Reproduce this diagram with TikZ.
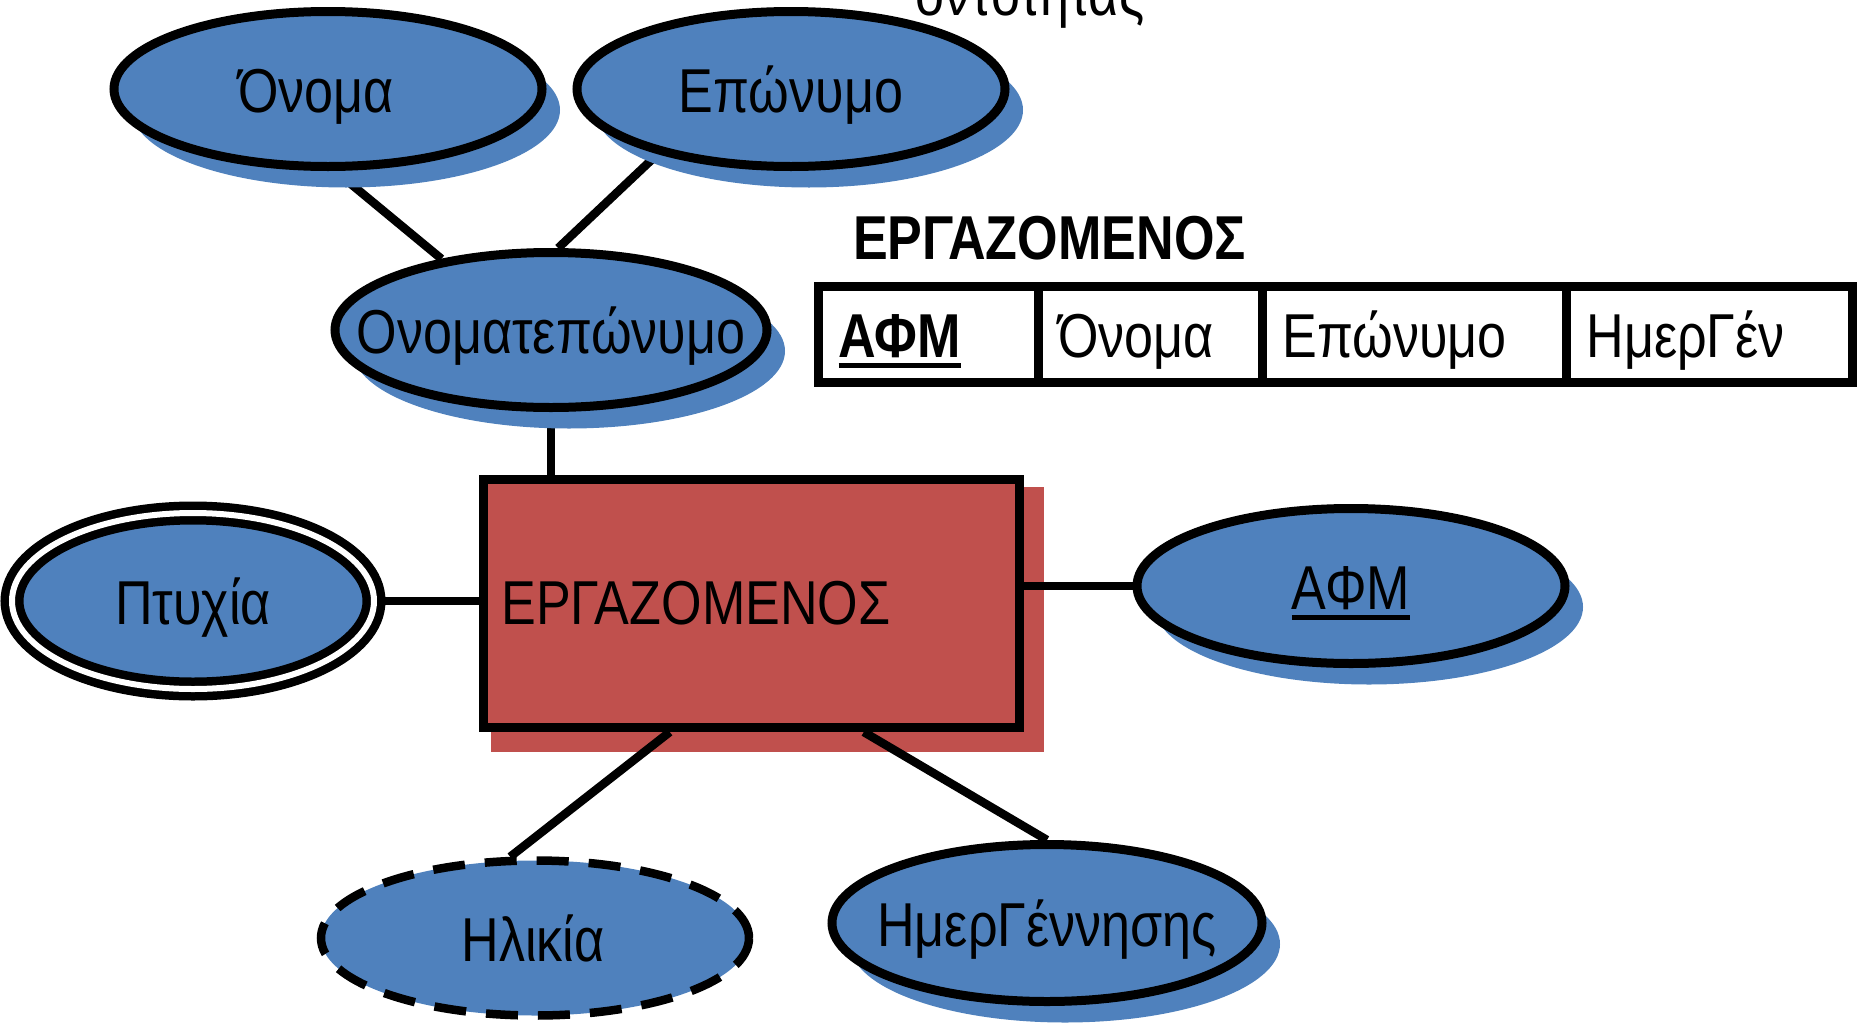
\documentclass[tikz,border=0pt]{standalone}
\usepackage{fontspec}
\setmainfont[FakeStretch=0.84]{Liberation Sans}
\usetikzlibrary{shapes.geometric,shadows,calc}

\definecolor{attrblue}{HTML}{4F81BD}
\definecolor{entred}{HTML}{C0504D}

\pgfdeclarelayer{background}
\pgfsetlayers{background,main}

% underlined key attribute
\newsavebox\keybox
\newcommand\keyattr[1]{\sbox\keybox{#1}\rlap{\rule[-10pt]{\wd\keybox}{4.5pt}}\usebox\keybox}

\tikzset{
  bigtext/.style={font=\fontsize{62}{70}\selectfont},
  lbl/.style={bigtext, inner sep=0pt, text height=47pt, text depth=0pt},
  attr/.style={ellipse, draw=black, line width=9pt, fill=attrblue,
    minimum width=428pt, minimum height=155pt, inner sep=0pt},
  shadowed/.style={drop shadow={shadow xshift=18pt, shadow yshift=-21pt,
    opacity=1, fill=attrblue}},
  entity/.style={rectangle, draw=black, line width=9pt, fill=entred,
    minimum width=536pt, minimum height=248pt, inner xsep=18pt,
    text width=500pt, align=left, bigtext},
  cell/.style={rectangle, draw=black, line width=9pt, anchor=north west,
    outer sep=0pt, minimum height=96pt, inner xsep=20pt, align=left,
    text height=46pt, text depth=0pt, bigtext},
  link/.style={line width=8.5pt},
}

\begin{document}
\begin{tikzpicture}[x=1pt, y=-1pt]
\useasboundingbox (0,0) rectangle (1863,1023);
\clip (0,0) rectangle (1863,1023);

% caption line above, cut by the top edge
\node[bigtext, inner sep=0pt, anchor=base] (caption) at (1030,15) {οντότητας};

% attributes
\node[attr, shadowed, label={[lbl, xshift=-12pt]center:Όνομα}] (onoma) at (328,89) {};
\node[attr, shadowed, label={[lbl]center:Επώνυμο}] (eponymo) at (791,89) {};
\node[attr, shadowed, minimum width=432pt, label={[lbl]center:Ονοματεπώνυμο}] (onomatep) at (551,330) {};
\node[attr, shadowed, label={[lbl]center:\keyattr{ΑΦΜ}}] (afm) at (1351,586) {};
\node[attr, shadowed, minimum width=430pt, minimum height=157pt, label={[lbl]center:ΗμερΓέννησης}] (hmer) at (1047,923) {};
\node[attr, double=white, double distance=6pt, line width=8.5pt,
  minimum width=362pt, minimum height=176pt, label={[lbl]center:Πτυχία}] (ptyxia) at (193,601) {};
\node[attr, line width=8.5pt, dash pattern=on 32pt off 20pt, label={[lbl, xshift=-2pt]center:Ηλικία}] (ilikia) at (535,938) {};

% entity
\node[entity] (ent) at (751.5,603.5) {ΕΡΓΑΖΟΜΕΝΟΣ};

% shadow of the entity and the connectors, behind the shapes
\begin{pgfonlayer}{background}
  \fill[entred] ([shift={(12,12)}]ent.north west) rectangle ([shift={(20,20)}]ent.south east);
  \draw[link] (onoma.-85) -- (onomatep.147);
  \draw[link] (eponymo.206) -- (onomatep.85);
  \draw[link] (onomatep.south) -- (onomatep.south |- ent.north);
  \draw[link] (ptyxia.east) -- (ptyxia.east -| ent.west);
  \draw[link] (afm.west) -- (afm.west -| ent.east);
  \draw[link] ($(ent.south west)!0.35!(ent.south east)$) -- (ilikia.107);
  \draw[link] ($(ent.south west)!0.706!(ent.south east)$) -- (hmer.north);
\end{pgfonlayer}

% relation schema
\node[bigtext, font=\fontsize{62}{70}\selectfont\bfseries, inner sep=0pt, anchor=base west] (title) at (853,259) {ΕΡΓΑΖΟΜΕΝΟΣ};
\node[cell, minimum width=220pt, text width=180pt] (c1) at (818.5,286.5) {\bfseries\keyattr{ΑΦΜ}};
\node[cell, minimum width=224pt, text width=184pt] (c2) at (1038.5,286.5) {Όνομα};
\node[cell, minimum width=304pt, text width=264pt] (c3) at (1262.5,286.5) {Επώνυμο};
\node[cell, minimum width=286pt, text width=246pt] (c4) at (1566.5,286.5) {ΗμερΓέν};
\end{tikzpicture}
\end{document}
